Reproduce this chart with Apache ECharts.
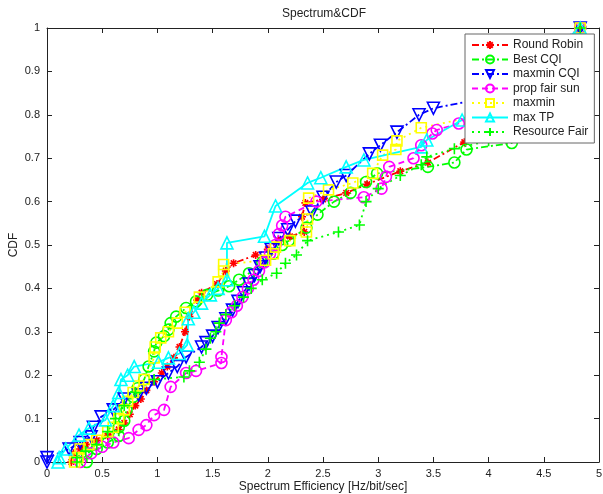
<!DOCTYPE html>
<html><head><meta charset="utf-8">
<script src="https://cdn.jsdelivr.net/npm/echarts@6/dist/echarts.min.js"></script>
<style>html,body{margin:0;padding:0;background:#fff}#c{width:603px;height:494px}</style>
</head><body><div id="c"></div>
<script>
var seriesNames = ['Round Robin','Best CQI','maxmin CQI','prop fair sun','maxmin','max TP','Resource Fair'];
var xTicks = [0,0.5,1,1.5,2,2.5,3,3.5,4,4.5,5];
var yTicks = [0,0.1,0.2,0.3,0.4,0.5,0.6,0.7,0.8,0.9,1];

var roundRobin = [[0.22,0.0],[0.24,0.02],[0.3,0.03],[0.35,0.04],[0.45,0.05],[0.55,0.06],[0.65,0.075],[0.7,0.09],[0.75,0.11],[0.8,0.13],[0.85,0.145],[0.9,0.165],[0.97,0.185],[1.04,0.205],[1.09,0.22],[1.15,0.24],[1.2,0.265],[1.25,0.3],[1.29,0.335],[1.36,0.373],[1.4,0.39],[1.54,0.41],[1.62,0.44],[1.69,0.458],[1.89,0.477],[2.0,0.49],[2.1,0.51],[2.2,0.52],[2.33,0.53],[2.31,0.565],[2.34,0.597],[2.5,0.605],[2.71,0.62],[2.9,0.64],[3.2,0.67],[3.45,0.69],[3.78,0.737],[4.1,0.76],[4.83,1.0]];
var bestCQI = [[0.36,0.0],[0.36,0.02],[0.45,0.03],[0.55,0.045],[0.65,0.06],[0.65,0.08],[0.7,0.095],[0.72,0.12],[0.78,0.15],[0.82,0.17],[0.88,0.19],[0.92,0.22],[0.97,0.255],[0.99,0.275],[1.06,0.29],[1.1,0.305],[1.12,0.32],[1.17,0.335],[1.26,0.355],[1.35,0.37],[1.45,0.385],[1.55,0.395],[1.65,0.405],[1.74,0.42],[1.83,0.435],[1.95,0.46],[2.05,0.48],[2.13,0.5],[2.19,0.51],[2.35,0.54],[2.45,0.57],[2.6,0.6],[2.75,0.62],[2.89,0.645],[2.99,0.665],[3.45,0.68],[3.69,0.69],[3.8,0.72],[4.21,0.735],[4.83,1.0]];
var maxminCQI = [[0.0,0.0],[0.0,0.01],[0.2,0.03],[0.3,0.045],[0.4,0.058],[0.42,0.08],[0.49,0.104],[0.6,0.12],[0.7,0.145],[0.83,0.155],[0.9,0.17],[1.0,0.185],[1.1,0.205],[1.18,0.22],[1.26,0.242],[1.4,0.265],[1.44,0.275],[1.5,0.29],[1.55,0.31],[1.62,0.33],[1.68,0.35],[1.73,0.37],[1.78,0.39],[1.83,0.41],[1.88,0.43],[1.93,0.45],[1.98,0.47],[2.03,0.49],[2.1,0.515],[2.18,0.535],[2.25,0.555],[2.4,0.576],[2.5,0.61],[2.62,0.645],[2.71,0.66],[2.92,0.71],[3.02,0.73],[3.17,0.76],[3.37,0.8],[3.5,0.815],[3.9,0.835],[4.83,1.0]];
var propFairSun = [[0.3,0.0],[0.4,0.02],[0.5,0.035],[0.6,0.045],[0.74,0.055],[0.83,0.074],[0.9,0.085],[0.97,0.108],[1.06,0.12],[1.12,0.173],[1.26,0.205],[1.35,0.21],[1.58,0.228],[1.58,0.242],[1.62,0.327],[1.67,0.345],[1.72,0.36],[1.77,0.38],[1.82,0.4],[1.87,0.42],[1.92,0.44],[1.97,0.46],[2.02,0.48],[2.07,0.5],[2.1,0.525],[2.13,0.545],[2.16,0.565],[2.44,0.6],[2.87,0.61],[3.03,0.63],[3.07,0.657],[3.1,0.68],[3.32,0.7],[3.39,0.73],[3.49,0.757],[3.53,0.765],[3.73,0.78],[4.83,1.0]];
var maxmin = [[0.25,0.0],[0.28,0.01],[0.3,0.03],[0.38,0.04],[0.45,0.05],[0.55,0.07],[0.6,0.08],[0.65,0.1],[0.7,0.12],[0.73,0.14],[0.78,0.16],[0.83,0.175],[0.88,0.19],[0.97,0.24],[0.98,0.265],[1.03,0.286],[1.1,0.3],[1.18,0.32],[1.25,0.345],[1.38,0.38],[1.55,0.415],[1.6,0.44],[1.6,0.455],[1.98,0.465],[2.05,0.48],[2.07,0.495],[2.2,0.51],[2.35,0.53],[2.36,0.56],[2.37,0.608],[2.55,0.627],[2.77,0.643],[2.95,0.665],[3.04,0.707],[3.16,0.72],[3.17,0.74],[3.39,0.77],[3.85,0.795],[4.83,1.0]];
var maxTP = [[0.1,0.0],[0.11,0.01],[0.17,0.03],[0.29,0.062],[0.38,0.078],[0.53,0.097],[0.6,0.13],[0.65,0.16],[0.67,0.19],[0.73,0.2],[0.79,0.22],[1.01,0.23],[1.1,0.24],[1.2,0.25],[1.27,0.27],[1.28,0.33],[1.33,0.345],[1.4,0.366],[1.48,0.385],[1.55,0.4],[1.63,0.42],[1.63,0.505],[1.97,0.52],[2.07,0.59],[2.36,0.643],[2.48,0.655],[2.71,0.68],[2.87,0.696],[3.39,0.726],[3.44,0.742],[3.76,0.788],[4.83,1.0]];
var resourceFair = [[0.27,0.0],[0.27,0.01],[0.35,0.025],[0.45,0.04],[0.55,0.07],[0.62,0.1],[0.7,0.13],[0.8,0.16],[0.97,0.19],[1.24,0.196],[1.29,0.21],[1.38,0.23],[1.44,0.26],[1.48,0.285],[1.53,0.3],[1.56,0.32],[1.62,0.34],[1.7,0.36],[1.78,0.38],[1.85,0.4],[1.95,0.42],[2.08,0.435],[2.16,0.458],[2.26,0.477],[2.36,0.51],[2.64,0.53],[2.83,0.546],[2.89,0.6],[3.0,0.63],[3.2,0.66],[3.39,0.685],[3.44,0.703],[3.69,0.722],[4.0,0.74],[4.83,1.0]];

var seriesData = [roundRobin,bestCQI,maxminCQI,propFairSun,maxmin,maxTP,resourceFair];
var colors = ['#ff0000','#00ff00','#0000ff','#ff00ff','#ffff00','#00ffff','#00ff00'];
var dashDot = [7,3,2,3], dashed=[6,4], dotted=[2,4];
var lineTypes = [dashDot,dashDot,dashDot,dashed,dotted,'solid',dotted];
var symbols = [
  'path://M0,5L10,5M5,0L5,10M1.5,1.5L8.5,8.5M8.5,1.5L1.5,8.5',
  'circle',
  'path://M0,0L10,0L5,9Z',
  'circle',
  'rect',
  'triangle',
  'path://M0,5L10,5M5,0L5,10'
];
var sizes = [8,11,12,11,10,12,11];

var chart = echarts.init(document.getElementById('c'), null, {renderer:'canvas'});
var font = 'Liberation Sans, Arial, sans-serif';
var series = seriesNames.map(function(n,i){
  return {
    name:n, type:'line', data:seriesData[i], symbol:symbols[i], symbolSize:sizes[i],
    showAllSymbol:true, clip:false,
    lineStyle:{color:colors[i], width:1.8, type:lineTypes[i]},
    itemStyle:{color:'rgba(255,255,255,0)', borderColor:colors[i], borderWidth:1.6},
    emphasis:{disabled:true}, z: 2
  };
});
var axisCommon = {
  min:0, axisLine:{show:true, onZero:false, lineStyle:{color:'#222', width:1}},
  axisTick:{show:true, inside:true, length:5, lineStyle:{color:'#222'}},
  splitLine:{show:false}
};
chart.setOption({
  animation:false,
  backgroundColor:'#fff',
  textStyle:{fontFamily:font},
  grid:{left:47, right:4, top:28, bottom:32, containLabel:false, outerBoundsMode:'none'},
  graphic:[{type:'text', x:324, y:14, style:{text:'Spectrum&CDF', fontSize:12, fontFamily:font, fill:'#222', align:'center', verticalAlign:'middle'}}],
  xAxis:[
    Object.assign({}, axisCommon, {type:'value', max:5, interval:0.5, position:'bottom',
      name:'Spectrum Efficiency [Hz/bit/sec]', nameLocation:'middle', nameGap:19, nameMoveOverlap:false,
      nameTextStyle:{fontSize:12, color:'#222', fontFamily:font},
      axisLabel:{fontSize:11, color:'#222', margin:6, fontFamily:font, formatter:function(v){return String(v);}}}),
    Object.assign({}, axisCommon, {type:'value', max:5, interval:0.5, position:'top', axisLabel:{show:false}})
  ],
  yAxis:[
    Object.assign({}, axisCommon, {type:'value', max:1, interval:0.1, position:'left',
      name:'CDF', nameLocation:'middle', nameGap:27, nameRotate:90, nameMoveOverlap:false,
      nameTextStyle:{fontSize:12, color:'#222', fontFamily:font},
      axisLabel:{fontSize:11, color:'#222', margin:7, fontFamily:font, formatter:function(v){return String(Math.round(v*10)/10);}}}),
    Object.assign({}, axisCommon, {type:'value', max:1, interval:0.1, position:'right', axisLabel:{show:false}})
  ],
  legend:{
    orient:'vertical', left:465, top:34, width:129,
    backgroundColor:'#fff', borderColor:'#666', borderWidth:1,
    padding:[5,6,5,6], itemGap:2.5, itemWidth:36, itemHeight:10,
    textStyle:{fontSize:12, color:'#222', fontFamily:font, padding:[0,0,0,0]},
    data:seriesNames, selectedMode:false
  },
  series:series
});
</script></body></html>
